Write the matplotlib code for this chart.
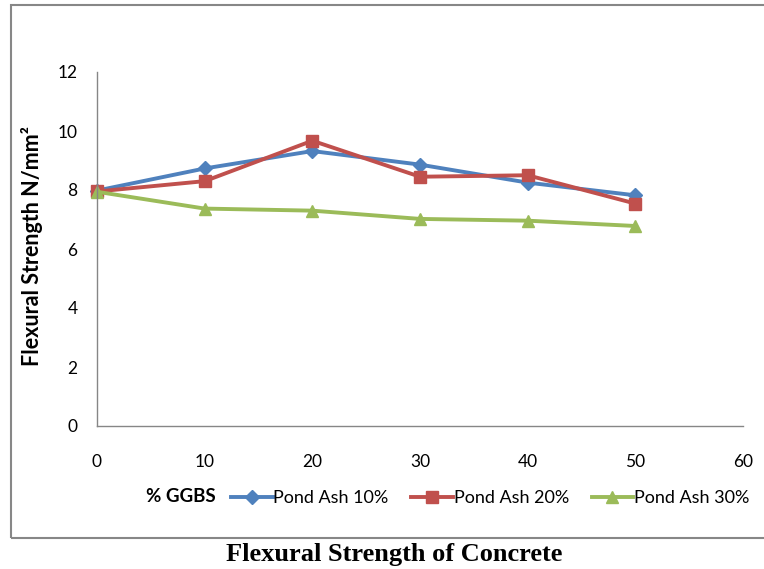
import numpy as np
import matplotlib
matplotlib.use("Agg")
import matplotlib.pyplot as plt
from matplotlib.patches import Rectangle

# data
ggbs = [0, 10, 20, 30, 40, 50]
pond_ash_10 = [7.98, 8.73, 9.32, 8.86, 8.25, 7.82]
pond_ash_20 = [7.95, 8.3, 9.67, 8.45, 8.5, 7.54]
pond_ash_30 = [7.94, 7.37, 7.3, 7.02, 6.96, 6.78]
series_names = ["Pond Ash 10%", "Pond Ash 20%", "Pond Ash 30%"]
x_ticks = [0, 10, 20, 30, 40, 50, 60]
y_ticks = [0, 2, 4, 6, 8, 10, 12]

plt.rcParams['font.family'] = ['Lato', 'DejaVu Sans']

fig = plt.figure(figsize=(7.64, 5.69), dpi=100)
W, H = 764, 569

# outer chart frame
fig.patches.append(Rectangle((11 / W, 1 - 538 / H), 1.0, (538 - 5) / H,
                             transform=fig.transFigure, fill=False,
                             edgecolor='#878787', linewidth=1.5))

ax = fig.add_axes([97 / W, 1 - 426 / H, (743 - 97) / W, (426 - 72) / H])

styles = [('#4F81BD', 'D', 7), ('#C0504D', 's', 9), ('#9BBB59', '^', 9)]
handles = []
for vals, name, (c, m, ms) in zip([pond_ash_10, pond_ash_20, pond_ash_30],
                                  series_names, styles):
    h, = ax.plot(ggbs, vals, color=c, marker=m, markersize=ms,
                 linewidth=2.8, label=name, clip_on=False)
    handles.append(h)

ax.set_xlim(0, 60)
ax.set_ylim(0, 12)
ax.set_xticks(x_ticks)
ax.set_yticks(y_ticks)
ax.tick_params(length=0, labelsize=12.5)
ax.tick_params(axis='x', pad=20)
ax.tick_params(axis='y', pad=14)
for s in ['top', 'right']:
    ax.spines[s].set_visible(False)
for s in ['left', 'bottom']:
    ax.spines[s].set_color('#868686')
    ax.spines[s].set_linewidth(1.0)

fig.text(32 / W, 1 - 246 / H, "Flexural Strength N/mm²", rotation=90,
         ha='center', va='center', fontsize=15.5, fontweight='bold')
fig.text(216 / W, 1 - 496 / H, "% GGBS", ha='right', va='center',
         fontsize=13.5, fontweight='bold')

fig.legend(handles=handles, loc='center left',
           bbox_to_anchor=(231 / W, 1 - 498 / H), ncol=3, frameon=False,
           fontsize=13, handlelength=2.3, handletextpad=0.05,
           columnspacing=1.25, borderaxespad=0, borderpad=0)

fig.text(394 / W, 1 - 554 / H, "Flexural Strength of Concrete",
         ha='center', va='center', fontsize=19, fontweight='bold',
         family=['Liberation Serif', 'DejaVu Serif'])

fig.savefig("out.png", dpi=100)
